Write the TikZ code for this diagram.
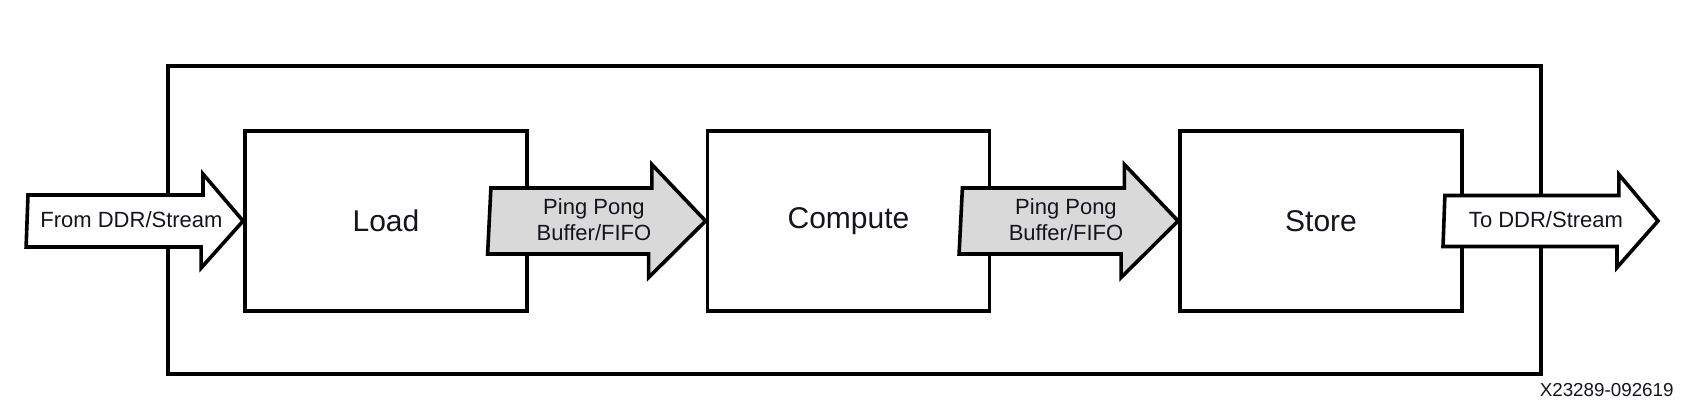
\documentclass[tikz,border=0pt]{standalone}
\usepackage{fontspec}
\setsansfont{Liberation Sans}
\usepackage{tikz}
\usetikzlibrary{calc}
\usepackage{xcolor}
\definecolor{lineblk}{RGB}{0,0,0}
\definecolor{buffill}{RGB}{217,217,217}
\definecolor{labeltxt}{RGB}{20,20,30}

\begin{document}
\begin{tikzpicture}[x=0.5pt, y=0.5pt,
  every node/.style={font=\sffamily, text=labeltxt},
  kernelbox/.style={rectangle, draw=lineblk, line width=1.9pt, minimum width=141pt, minimum height=90pt, font=\sffamily\fontsize{15}{18}\selectfont, inner sep=0pt},
  topbox/.style={draw=lineblk, line width=2pt},
  hollowA/.style={draw=lineblk, fill=white, line width=1.8pt, line join=miter},
  bufA/.style={draw=lineblk, fill=buffill, line width=1.8pt, line join=miter},
  flowtxt/.style={font=\sffamily\fontsize{11}{13}\selectfont, align=center, inner sep=0pt},
  tagtxt/.style={font=\sffamily\fontsize{9.4}{11}\selectfont, inner sep=0pt},
]
\useasboundingbox (0,0) rectangle (1683,410);
\draw[topbox] (168,36) rectangle (1541,344);
\node[kernelbox] (load) at (386,189) {Load};
\node[kernelbox] (compute) at (848.5,189) {Compute};
\node[kernelbox] (store) at (1321,189) {Store};
\coordinate (src) at (28,189);
\coordinate (dst) at (1658,189);
\draw[hollowA] ($(src)+(0,26)$) -- ++(175,0) -- ++(0,21) -- (load.west) -- ++(-42,-47) -- ++(0,21) -- ++(-175,0) -- cycle;
\draw[bufA] ($(load.east)+(-38,33)$) -- ++(161,0) -- ++(0,23.5) -- (compute.west) -- ++(-57,-56.5) -- ++(0,23.5) -- ++(-161,0) -- cycle;
\draw[bufA] ($(compute.east)+(-29,33)$) -- ++(162,0) -- ++(0,23.5) -- (store.west) -- ++(-57,-56.5) -- ++(0,23.5) -- ++(-162,0) -- cycle;
\draw[hollowA] ($(store.east)+(-19,25.5)$) -- ++(174,0) -- ++(0,21) -- (dst) -- ++(-41,-46.5) -- ++(0,21) -- ++(-174,0) -- cycle;
\node[flowtxt] (fromlbl) at (131.5,190) {From DDR/Stream};
\node[flowtxt] (buf1lbl) at (594,190) {Ping Pong\\Buffer/FIFO};
\node[flowtxt] (buf2lbl) at (1066,190) {Ping Pong\\Buffer/FIFO};
\node[flowtxt] (tolbl) at (1546,190) {To DDR/Stream};
\node[tagtxt, anchor=base east] (figtag) at (1674,13) {X23289-092619};
\end{tikzpicture}
\end{document}
